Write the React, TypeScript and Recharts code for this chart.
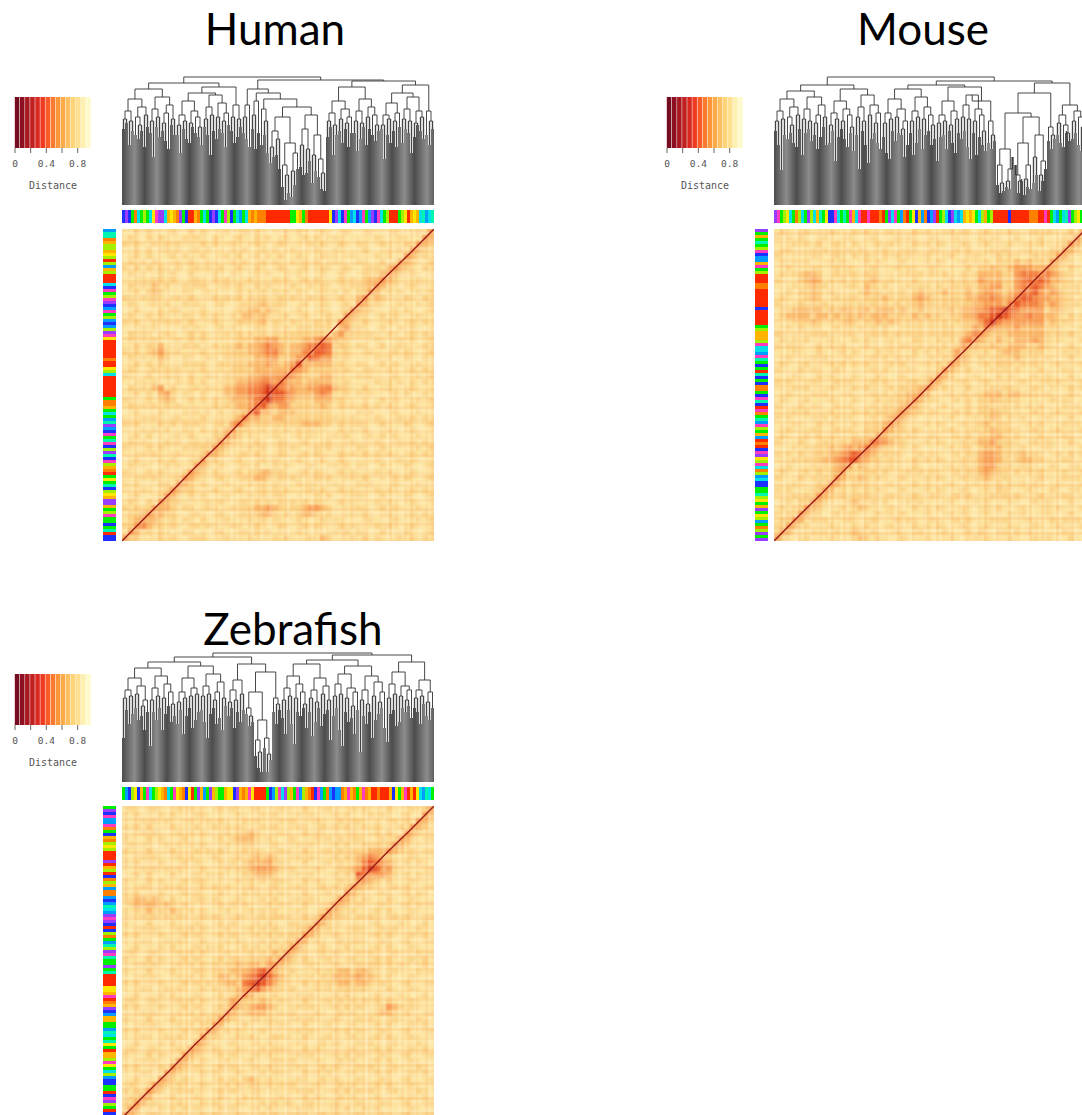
import { Bar, BarChart, Cell, Line, LineChart, Scatter, ScatterChart, XAxis, YAxis } from 'recharts';

// tree nodes are [merge height, left, right], a plain number is a leaf tip height
const H1 = [106, [94, [86, 76, 82], [84, 60, 74]], [98, [88, 70, [80, 66, 74]], [90, 58, 78]]];
const H2 = [108, [96, [84, 72, 48], [88, 78, 68]], [100, [92, [82, 74, 64], 56], [86, 80, 70]]];
const H3 = [104, [90, [80, 70, 52], [84, 76, 66]], [94, [82, 62, 78], [88, 72, [78, 68, 60]]]];
const H4 = [110, [98, [86, 78, 70], [90, 50, 74]], [102, [88, 66, 76], [92, [84, 72, 58], 80]]];
const H5 = [100, [88, 74, 62], [86, 68, 78]];
const H6 = [104, [92, [84, 68, 78], [80, 50, 70]], [96, [86, 74, 62], [88, [82, 76, 58], 72]]];
const H7 = [106, [94, [84, 72, 54], [82, 66, 78]], [98, [88, 60, 76], [90, 70, [80, 64, 74]]]];
const H8 = [102, [90, [80, 76, 46], [86, 70, 62]], [92, [84, 74, 58], 78]];
const H9 = [108, [96, [86, 62, 76], [84, 72, 52]], [94, [82, 68, 80], [88, 74, 66]]];
const H10 = [94, 70, [84, 60, 76]];
const humanDeep = [116, [100, [88, 72, 66], 58], [112, [104, [90, 76, 56], 72], [106, [96, 60, [84, 70, 52]], [98, [88, [74, [58, 42, 48], [66, 50, 36]], [62, [40, 18, [30, 5, 12]], [52, [34, 8, 20], 36]]], [90, [76, [60, 38, 30], [56, 32, 44]], [70, [50, 22, 34], [46, 28, [32, 16, 14]]]]]]]];
const humanTree = [128, [122, [116, H1, H2], [118, [112, H3, H4], H5]], [125, humanDeep, [124, [118, H6, H7], [120, [112, H8, H9], H10]]]];

const M1 = [106, [94, [84, 74, 60], [86, 35, 70]], [98, [88, 66, [80, 72, 62]], [90, 58, 76]]];
const M2 = [108, [96, [86, 50, 72], [84, 76, 64]], [100, [90, [82, 70, 56], 68], [88, 78, 60]]];
const M3 = [104, [92, [80, 62, 74], [86, 44, 68]], [96, [84, 76, 66], [90, 58, [78, 72, 54]]]];
const M4 = [110, [98, [88, 70, 36], [84, 74, 60]], [100, [90, 42, 66], [92, [82, 72, 62], 56]]];
const M5 = [106, [92, [82, 68, 52], [86, 46, 74]], [96, [88, 64, 72], [84, [76, 70, 48], 60]]];
const M6 = [108, [94, [84, 72, 50], [88, 62, 76]], [98, [86, 56, 70], [90, 74, [80, 60, 66]]]];
const M7 = [104, [90, [82, 44, 68], [84, 70, 56]], [94, [80, 74, 62], [86, 52, 72]]];
const M8 = [110, [100, [88, 66, 74], [86, 58, 46]], [96, [84, 72, 50], [90, 68, [74, 60, 54]]]];
const M9 = [84, 62, [70, 56, 64]];
const mouseDeep = [112, [92, [56, [40, 20, [22, 12, 14]], [36, [24, 18, 16], 48]], [88, [62, [30, 40, [24, 12, 26]], [40, [26, 10, 18], 16]], [70, [48, 22, 30], [44, [30, 14, 24], 36]]]], [78, 64, [70, 56, 66]]];
const mouseRight = [100, [90, [82, 70, 62], [80, 58, [72, 74, 64]]], [94, [84, 66, 72], [88, 60, [78, 54, 68]]]];
const mouseTree = [128, [120, [114, M1, M2], [116, M3, M4]], [124, [120, [116, M5, M6], [118, M7, [104, M8, M9]]], [122, mouseDeep, mouseRight]]];

const Z1 = [104, [92, [84, 44, 72], [86, 58, 68]], [96, [88, 74, 62], [82, [76, 66, 52], 70]]];
const Z2 = [106, [94, [82, 36, 70], [86, 62, 74]], [98, [84, 52, 68], [90, 76, [78, 60, 66]]]];
const Z3 = [104, [90, [80, 58, 72], [84, 48, 66]], [94, [86, 74, 54], [88, 62, 70]]];
const Z4 = [108, [96, [86, 72, 60], [88, 44, 68]], [100, [90, [82, 74, 58], 64], [84, 52, 76]]];
const Z5 = [102, [92, [80, 66, 74], [82, 54, 70]], [88, 60, 72]];
const zebrafishDeep = [110, [90, [74, 68, [66, 56, 60]], [62, [42, 26, [30, 14, 10]], [44, 34, [28, 10, 22]]]], [84, 70, [78, 58, 72]]];
const Z7 = [106, [94, [82, 64, 48], [86, 72, 58]], [98, [84, 38, 70], [90, 66, [78, 74, 54]]]];
const Z8 = [104, [92, [84, 70, 46], [80, 60, 74]], [96, [88, 56, 68], [82, 72, 42]]];
const Z9 = [108, [98, [86, 66, 74], [88, 52, 36]], [94, [84, 70, 60], [90, [76, 64, 48], 72]]];
const Z10 = [106, [92, [82, 30, 66], [78, 58, 70]], [100, [86, 44, 62], [90, [80, 68, 74], 54]]];
const Z11 = [110, [98, [84, 40, 68], [88, 72, 56]], [96, [86, 60, 74], [92, [82, 70, 76], 64]]];
const Z12 = [102, [92, [84, 74, 70], [86, 58, 78]], [90, [80, 66, 62], 74]];
const zebrafishTree = [129, [125, [120, [114, Z1, Z2], [116, Z3, Z4]], [118, Z5, zebrafishDeep]], [127, [122, [118, Z7, Z8], [116, Z9, Z10]], [120, Z11, Z12]]];

// strip colours, one letter per sample
const stripColours: Record<string, string> = {
  r: '#ff2a00', o: '#ff8000', a: '#ffb400', y: '#ffe600', l: '#a4f000', g: '#00f000',
  t: '#00f5b0', c: '#00e0e8', s: '#009cff', b: '#1c30ff', p: '#9a3cff', m: '#ff3cc0',
};
const humanTop = 'bpbgocglgcymppcayaopgbrraogcgbpbcgmlbgcsgcaoaooorrrrrrrrggyagorrrrrrrybpcbmgscbsmgspbmcglrrrglyrayactsct';
const humanLeft = 'sttoallaylrlsalrrrcbmglmpbsmglsbslpmyrrrrrrorrylcrrrrrrrgooagcgstpsbmgtmblptbmlaorgygtblyappaglmggbgtrbb';
const mouseTop = 'pmglycgolcgplcatgybbmcgtgmacmrrmrrrorgpcmgsorgybasobsprglcbpcscayaygclaglrrrrrbrrrrrrooorrmrgcsgctpglygy';
const mouseLeft = 'pgagtglmbssamglrrroorrrrrrbrrrrrglaaalmccsmtgbgrtbgboogbmtbrmogtsmlgasrorbmpylmcolscbbggtlygapgylsgolpgp';
const zebrafishTop = 'gsblybagmcglyaocgmyaobyrgpasgpalggayybpaoamyrrrrgbslmcplagmslaorbmsgosbssoamaogamoarrorrrabygamrarycstcg';
const zebrafishLeft = 'gpbmssmogbaolylrrrpralrbolasoosbstcspmpbrblogstlpmtggpgtrrrryyamroapbsaaggstcgtygraalmygclsbbggrbmplgrbr';

// colour bar of the distance key
const keyPositions = [0.03, 0.096, 0.161, 0.226, 0.291, 0.356, 0.421, 0.486, 0.551, 0.616, 0.681, 0.746, 0.811, 0.876, 0.941];
const keyColours = ['#760c20', '#8e1020', '#a81820', '#c02020', '#d82820', '#ee3a20', '#f85a28', '#fc7a30', '#fd9638', '#fdab48', '#fdc060', '#fed478', '#fee090', '#fef0b0', '#fffacc'];
const keyTicks = [0, 0.2, 0.4, 0.6, 0.8];

const heatColours = ['#feeeb4', '#fee8a8', '#fde29c', '#fcd58a', '#fbbc70', '#f9a05a', '#f47e42', '#ea5628', '#d22e18', '#9c1612'];
const diagonalX = [0, 4, 8, 12, 16, 20, 24, 28, 32, 36, 40, 44, 48, 52];
const diagonalY = [0, 4.06, 7.96, 12.08, 15.94, 20.08, 23.94, 28.06, 31.94, 36.08, 39.96, 44.08, 47.96, 52];

// pale and orange streaks running through the heatmaps, 0 palest, 2 none, 5 most orange
const streakColours = ['#fff8d8', '#fff4c8', '#ffffff', '#f6a050', '#f39040', '#ee7c30'];
const streakOpacity = [0.22, 0.1, 0, 0.06, 0.12, 0.2];
const humanCols = '21324201232042132320123421 23201423120324213024132012 32402123142032413201243120 21342012320413203241201324';
const humanRows = '30214203120423102431203412 02314210324023142013240312 14203124012342031204312403 20134203142031240321420313';
const mouseCols = '12403120423102341204231402 31204213402312043120432103 20413204120342013241204312 40231204132402314021340213';
const mouseRows = '24013204312041230412031423 10324120431204213042130241 32041203142031240413203124 02413204213420312042130412';
const zebrafishCols = '03124201342031204213240312 41203142031240321403120423 12043120341204231204312403 21403124203412031420312401';
const zebrafishRows = '31204123042130241320412031 24031240213402314203124032 40312042130241320413204123 02143120423012413204132042';

const humanHeat = [
  '2132321232132 3212312323212 1323212321232 1232123212325',
  '2321323212323 2132123213231 2312323123212 2123212321254',
  '3232132323212 3231232123212 3212132312321 3212321232543',
  '2132312323123 2312132312323 1232123213212 2321232325432',
  '1232321232312 3212323123132 3123212323123 2123231254332',
  '2323132123232 1321232312323 2132323123212 3212312543213',
  '3132323213123 2323123213212 3212312321232 1233245432132',
  '2323123232132 1232132123232 1323212312321 2333454323212',
  '2123233232123 2132321232123 2312323212323 2344543212321',
  '1323242312323 3212323213232 1232132321223 3345432123212',
  '2232343212321 2321213232323 2323212323132 3354232312323',
  '3213232123232 1232323132322 3232132312322 4534321232132',
  '2321232312323 2123212333433 3212312321232 5433212321323',
  '1232123233212 3212123344343 2123212321235 4332123232123',
  '2312323212321 3232132443432 2312321232154 3212323212321',
  '3232132323232 1232123333423 2132123232543 2321232123232',
  '2123231212323 2123232123323 2323333332453 3212321323212',
  '1323212321232 3212323232323 2333333324533 3232132123232',
  '2323232123232 3212223334455 3333445654332 2123212323123',
  '2132334212323 1232334344565 4344566763332 3212312321232',
  '3232345323212 3212333344566 4344667763232 1232123232123',
  '2323234312321 2321333334455 3345576553232 2123231232132',
  '1232323212323 3213333344454 3457444443322 3212323212321',
  '2321232323212 3212233334444 4465433333232 1232132123232',
  '3212322323132 2321333344555 5654333443222 3232123212323',
  '2123231213232 3212334455665 6544344443232 2123232313232',
  '1323245232123 2322445566787 6554455664332 2321232123212',
  '2232324532321 3212445566787 7654445653232 3232123231232',
  '3212323431232 3232344456786 6543334443322 1212323212323',
  '2323232323212 1232334456754 5533333432323 2323132123212',
  '1232123212323 2313233467443 4443333332212 3232123212321',
  '2123232123212 3212234644334 4333333333223 2123212323232',
  '3232123232323 2123256433333 3333444332323 3212321232123',
  '2123232312321 3232453332323 2323232212323 2321232123212',
  '1232312123232 1233543232123 2123232123232 1232323212321',
  '2323212323123 2335432123212 3212321232123 2123212323232',
  '3212323212323 3354321232312 3232123232212 3212321212323',
  '2123232123212 3543212323212 3212323212323 2323232123232',
  '1232123232123 5332123212323 2123212312321 2123212323212',
  '2323212323225 4323212323123 2321232123232 3212321232123',
  '3212323212354 3232123233443 3212323212323 2123232123212',
  '2123232123543 2123212334432 3232123232123 2321213232123',
  '3232123325432 3212321232323 2123232123212 3232123212321',
  '2123212354332 1232123212323 2321232312323 2123232123232',
  '1232123543232 3212321232323 3212123232123 3212321232123',
  '2321325433212 2323212323232 3232323212323 2123232123212',
  '3233354432321 2321232334454 3233455432123 3212323212321',
  '2334544332123 2123212333443 2323443232123 2321232123232',
  '2345443232321 3212321232323 2123212323212 1232123212323',
  '3356433232123 2321232123212 3212323212323 2123232123212',
  '2543323212321 2123212323232 2123212123232 3212321232123',
  '5332123232123 3212321232123 2321232432123 2323212323232',
];
const mouseHeat = [
  '2321232123212 3232123212323 2123232123212 3212323212325',
  '3232321232123 2123212323212 3212321232321 2321232123254',
  '2123232312321 3212323212323 2321232123212 3123232123543',
  '2332123232323 2321232123212 3212323212323 2123212335432',
  '3212123212321 3232132323123 2123212321232 3212323354212',
  '2323232123232 1232321232123 2321232323233 3434333543212',
  '1232123212323 2123212323212 3212123233433 4555445432321',
  '2323344312323 3233212123232 3232132344443 3566656543212',
  '3212345423232 3234323212321 2123232354443 3567676443212',
  '2123234332123 3243232123233 2323333344553 3566765433232',
  '1232334323212 2343323232343 3343334345543 4566754543232',
  '2321234312323 3233343233454 3233334455654 5677655443212',
  '3212323232123 2323232323343 3233333445554 6766654543232',
  '2334444434344 3443444343343 3334344556778 7655553443212',
  '2344443443434 3434443333434 3323344566787 6556554432323',
  '2123334323234 3233434323232 3232333457865 5555553433212',
  '2232323212323 2323232123232 3233233546544 4544443332123',
  '3212123232123 2123232323232 3233234654333 4444443232321',
  '2323232123212 3232123212332 2323256543343 3444543232123',
  '3233212323232 1232123233232 3232354433433 4443343212321',
  '2123212321232 3212323212323 2323543323234 4433332123232',
  '1232123232123 2123232323212 3233543232333 3432323212321',
  '2321232123232 3232123232123 2325432123233 3232321232123',
  '3212323212321 2123232123212 2354323212323 2321232123212',
  '2123212323212 3212321232123 3543212321232 3212323212321',
  '3232123212323 2123232123323 5421232123212 1232123232123',
  '2123232123212 3232123233345 4232123212323 3212321212323',
  '1232123232123 2123232334454 2123232334443 4433323212321',
  '2321232123212 3212323334543 3212323233433 3322212323212',
  '3212323212323 2123233345432 1232123233323 2323232123232',
  '2123232123212 3232333454332 3212323233433 2212321232123',
  '3232123232323 2123234543212 2123212323432 3232123212321',
  '2123212323212 3233345432123 2321232334333 2123232123232',
  '1232123212323 2133354332321 2123212323433 3212321232123',
  '2321232323212 3233543323212 3212323233443 2321232123212',
  '3212321233233 4446654332123 2321232344533 3212323212321',
  '2123233334345 4565433232321 2123233234443 3232123212123',
  '3232323334456 7654333321232 3212323345543 3343321232323',
  '2123233344567 7543323212323 2321232345543 2344332123212',
  '1232123233455 3432323212321 2123232345533 3233212321232',
  '2321232323453 2333232123232 3212323345433 2323232123123',
  '3212323233543 3432321232123 2321232334323 2121232123232',
  '2123212335432 3332123212323 2123212323232 3232321232123',
  '3232123354232 3232321232123 2321232123233 2123212321232',
  '2123233543232 3332123212321 3212323212323 2321232123212',
  '1232335432123 4323232123232 2123212323212 3212323212321',
  '2323354321232 3432123212323 2321232123232 1232123232123',
  '3233543212323 3212323232123 2123232123212 3232123212321',
  '2335423232123 2123212323212 3212323212323 2123212323232',
  '3354232123212 3232123212323 2321232123212 3212321232123',
  '3542123232323 4323212321232 1232123232123 2323212123212',
  '5321232123212 3432321232123 2123212323212 3212323212321',
];
const zebrafishHeat = [
  '2321232123232 2123232123212 3212321232123 2321232123235',
  '3232123232123 3212123212323 2123232123232 1232321232154',
  '2123232321232 2323212323212 3232123212323 3212123232543',
  '3232321232123 1232323212323 2123212323232 2323212325432',
  '2123232123232 3212323343212 3212323212123 2123232154323',
  '3212323212321 2123234443232 1232123232323 3212323543123',
  '2323212323232 3212323332123 2123232123232 2333335432212',
  '3212321232123 2323212323212 3212321232323 3344454323123',
  '2123232123232 1232123234343 2123232123233 4565432123212',
  '3232123212323 2123232344453 3212321232323 4676543232321',
  '2123232323212 3212323345554 3232123212334 5787553212123',
  '1232321232123 2323212334443 2123232123233 7655543232323',
  '3212323212323 3212123232323 3212323212323 5543232123212',
  '2123212323212 3232321232123 2123212323235 4332123232123',
  '3232123212323 2123212323232 3212321232154 3212321232321',
  '3344343232123 3232123212323 2123232123543 2321232123212',
  '2344443432321 2123232321232 3212321235432 3212321232323',
  '3233433343232 3212321232323 2123212354323 2123232123212',
  '2123232323212 3232123212323 3212323543321 3232123232123',
  '3212321232123 2123232123232 1233235432212 2123212321232',
  '2123232123232 3212321232323 2123354232123 3212323212321',
  '3232123212323 2123232123232 3233543123212 2123232123232',
  '2123212323212 3212323212323 2335423212323 3212321232123',
  '1232123232123 2323212323232 3354212321232 2123232123212',
  '2321232123232 3212321232324 3543212323212 3232123212323',
  '3212323212323 2123233233343 5432321232123 2123232123232',
  '2123232123232 3232334344355 4321232123212 3233232321232',
  '3212321232123 3233344456764 3232123233443 4432123212323',
  '2123232123232 3234434567875 4323232334444 5443232123212',
  '3232123212323 2323443678764 3212323233443 4432321232123',
  '2123212323212 3232334567543 3232123232333 3321232123212',
  '1232123232123 2123234543323 2123232123232 2123212321232',
  '2321232123232 3212354333432 3212321232323 2323232123212',
  '3232123212323 2123354345543 2123232123232 3212354323212',
  '2123232123232 3233543344432 3232123212323 2123443232123',
  '3212321232123 2335432123232 2123232123212 3232123212321',
  '2123232123232 3354212321232 3212321232123 2123232123232',
  '3232123212323 3542323212321 2123232123232 3212321232123',
  '2123212323212 5332123232123 3212321232123 2123232123212',
  '1232123232125 4321232123232 2123212323212 3232123212321',
  '2321232123254 3232123212323 3212323212123 2123232123232',
  '3212323212543 2123232123232 2123232123232 3212321232123',
  '2123232125432 3212321232123 3232123212323 2123232123212',
  '3232123254323 2123232123232 2123212323212 3232123212321',
  '2123212543212 3232123212323 3212323232123 2123232123232',
  '1232125432321 2123232343232 2123212323212 3212321232123',
  '2321254323212 3212323233232 3232123212323 2123232123212',
  '3233543123232 2123232123212 2123232123232 3232123212321',
  '2335421232123 2123212323212 3212323212323 2123212323232',
  '3354232123212 3232123212323 2321232123212 3212321232123',
  '3542123232323 2123232123232 2123232123232 2323212123212',
  '5421232123212 3232123212323 2123212323212 3212321232123',
];

function layoutTree(tree: any) {
  const leaves: { name: number; tip: number; cap: number }[] = [];
  const links: { x: number; h: number | null }[] = [];
  const walk = (node: any): { x: number; h: number } => {
    if (typeof node === 'number') {
      leaves.push({ name: leaves.length, tip: node, cap: 0 });
      return { x: leaves.length - 0.5, h: node };
    }
    const [h, left, right] = node;
    const a = walk(left);
    const b = walk(right);
    if (typeof left === 'number' && typeof right === 'number') {
      // tight pairs look filled with light grey in the original
      leaves[leaves.length - 2].cap = h - left;
      leaves[leaves.length - 1].cap = h - right;
    }
    links.push({ x: a.x, h: a.h }, { x: a.x, h }, { x: b.x, h }, { x: b.x, h: b.h }, { x: b.x, h: null });
    return { x: (a.x + b.x) / 2, h };
  };
  walk(tree);
  return { leaves, links };
}

const noMargin = { top: 0, right: 0, bottom: 0, left: 0 };

function Dendrogram({ id, tree }: { id: string; tree: any }) {
  const { leaves, links } = layoutTree(tree);
  return (
    <div style={{ position: 'absolute', left: 122, top: 75, width: 312, height: 130 }}>
      <div style={{ position: 'absolute', left: 0, top: 0 }}>
        <BarChart width={312} height={130} data={leaves} margin={noMargin} barCategoryGap={0}>
          <defs>
            <linearGradient id={id} gradientUnits="userSpaceOnUse" x1={0} y1={0} x2={22.5} y2={0} spreadMethod="repeat">
              <stop offset="0" stopColor="#4c4c4c" />
              <stop offset="0.55" stopColor="#8c8c8c" />
              <stop offset="1" stopColor="#4c4c4c" />
            </linearGradient>
          </defs>
          <XAxis dataKey="name" hide />
          <YAxis hide domain={[0, 130]} />
          <Bar dataKey="tip" stackId="a" fill={`url(#${id})`} isAnimationActive={false} />
          <Bar dataKey="cap" stackId="a" fill="#dcdcdc" isAnimationActive={false} />
        </BarChart>
      </div>
      <div style={{ position: 'absolute', left: 0, top: 0 }}>
        <LineChart width={312} height={130} data={links} margin={noMargin}>
          <XAxis dataKey="x" type="number" domain={[0, leaves.length]} hide />
          <YAxis hide domain={[0, 130]} />
          <Line dataKey="h" stroke="#333" strokeWidth={0.9} dot={false} connectNulls={false} isAnimationActive={false} />
        </LineChart>
      </div>
    </div>
  );
}

function Strip({ codes, vertical, style }: { codes: string; vertical?: boolean; style: any }) {
  const data = codes.split('').map((code, i) => ({ name: i, code, size: 1 }));
  const width = vertical ? 13 : 312;
  const height = vertical ? 312 : 13;
  return (
    <div style={{ position: 'absolute', ...style }}>
      <BarChart width={width} height={height} data={data} margin={noMargin} barCategoryGap={0} layout={vertical ? 'vertical' : 'horizontal'}>
        {vertical ? <XAxis type="number" hide domain={[0, 1]} /> : <XAxis dataKey="name" hide />}
        {vertical ? <YAxis type="category" dataKey="name" hide /> : <YAxis hide domain={[0, 1]} />}
        <Bar dataKey="size" isAnimationActive={false}>
          {data.map((d) => (
            <Cell key={d.name} fill={stripColours[d.code]} />
          ))}
        </Bar>
      </BarChart>
    </div>
  );
}

function Streaks({ codes, vertical }: { codes: string; vertical?: boolean }) {
  const data = codes.replace(/ /g, '').split('').map((digit, i) => ({ name: i, level: Number(digit), size: 1 }));
  return (
    <div style={{ position: 'absolute', left: 0, top: 0 }}>
      <BarChart width={312} height={312} data={data} margin={noMargin} barCategoryGap={0} layout={vertical ? 'horizontal' : 'vertical'}>
        {vertical ? <XAxis dataKey="name" hide /> : <XAxis type="number" hide domain={[0, 1]} />}
        {vertical ? <YAxis hide domain={[0, 1]} /> : <YAxis type="category" dataKey="name" hide />}
        <Bar dataKey="size" isAnimationActive={false}>
          {data.map((d) => (
            <Cell key={d.name} fill={streakColours[d.level]} fillOpacity={streakOpacity[d.level]} />
          ))}
        </Bar>
      </BarChart>
    </div>
  );
}

function Heatmap({ rows, cols, streakRows }: { rows: string[]; cols: string; streakRows: string }) {
  const cells: { x: number; y: number; level: number }[] = [];
  rows.forEach((row, r) => {
    row.replace(/ /g, '').split('').forEach((digit, c) => {
      cells.push({ x: c + 0.5, y: 51.5 - r, level: Number(digit) });
    });
  });
  const drawCell = (props: any) => (
    <rect x={props.cx - 3.05} y={props.cy - 3.05} width={6.1} height={6.1} fill={heatColours[props.payload.level]} />
  );
  return (
    <div style={{ position: 'absolute', left: 122, top: 229, width: 312, height: 312, overflow: 'hidden', background: '#fcdc98' }}>
      <div style={{ position: 'absolute', left: 0, top: 0, filter: 'blur(0.8px)' }}>
        <ScatterChart width={312} height={312} margin={noMargin}>
          <XAxis dataKey="x" type="number" domain={[0, 52]} hide />
          <YAxis dataKey="y" type="number" domain={[0, 52]} hide />
          <Scatter data={cells} shape={drawCell} isAnimationActive={false} />
        </ScatterChart>
      </div>
      <Streaks codes={cols} vertical />
      <Streaks codes={streakRows} />
      <div style={{ position: 'absolute', left: 0, top: 0 }}>
        <LineChart width={312} height={312} data={diagonalX.map((x, i) => ({ x, y: diagonalY[i] }))} margin={noMargin}>
          <XAxis dataKey="x" type="number" domain={[0, 52]} hide />
          <YAxis dataKey="y" type="number" domain={[0, 52]} hide />
          <Line dataKey="y" stroke="#9a1a14" strokeWidth={1.4} dot={false} isAnimationActive={false} />
        </LineChart>
      </div>
    </div>
  );
}

function DistanceKey() {
  const data = keyPositions.map((x, i) => ({ x, size: 1, fill: keyColours[i] }));
  return (
    <div style={{ position: 'absolute', left: 0, top: 97 }}>
      <BarChart width={106} height={96} data={data} margin={{ top: 0, right: 15, bottom: 0, left: 15 }}>
        <XAxis
          dataKey="x"
          type="number"
          domain={[0, 0.97]}
          ticks={keyTicks}
          interval={0}
          height={45}
          axisLine={false}
          tickSize={5}
          tickMargin={7}
          tick={{ fill: '#555', fontSize: 9.5, fontFamily: '"DejaVu Sans Mono", monospace' }}
          tickFormatter={(v: number) => (v === 0 ? '0' : v === 0.4 || v === 0.8 ? String(v) : '')}
          label={{ value: 'Distance', position: 'insideBottom', offset: 4, fill: '#555', fontSize: 10, fontFamily: '"DejaVu Sans Mono", monospace' }}
        />
        <YAxis hide domain={[0, 1]} />
        <Bar dataKey="size" barSize={6} isAnimationActive={false}>
          {data.map((d) => (
            <Cell key={d.x} fill={d.fill} />
          ))}
        </Bar>
      </BarChart>
    </div>
  );
}

function Panel({ id, title, titleX, titleY, left, top, tree, topCodes, leftCodes, rows, cols, streakRows }: any) {
  return (
    <div style={{ position: 'absolute', left, top, width: 440, height: 545 }}>
      <div style={{ position: 'absolute', left: titleX - 150, width: 300, top: titleY - 28, height: 56, lineHeight: '56px', textAlign: 'center', fontFamily: 'Lato, sans-serif', fontSize: 44, color: '#000' }}>
        {title}
      </div>
      <DistanceKey />
      <Dendrogram id={id} tree={tree} />
      <Strip codes={topCodes} style={{ left: 122, top: 210 }} />
      <Strip codes={leftCodes} vertical style={{ left: 103, top: 229 }} />
      <Heatmap rows={rows} cols={cols} streakRows={streakRows} />
    </div>
  );
}

export default function App() {
  return (
    <div style={{ position: 'absolute', left: 0, top: 0, width: 1082, height: 1115, overflow: 'hidden', background: '#fff' }}>
      <Panel id="bandsHuman" title="Human" titleX={275} titleY={28} left={0} top={0} tree={humanTree} topCodes={humanTop} leftCodes={humanLeft} rows={humanHeat} cols={humanCols} streakRows={humanRows} />
      <Panel id="bandsMouse" title="Mouse" titleX={271} titleY={28} left={652} top={0} tree={mouseTree} topCodes={mouseTop} leftCodes={mouseLeft} rows={mouseHeat} cols={mouseCols} streakRows={mouseRows} />
      <Panel id="bandsZebrafish" title="Zebrafish" titleX={293} titleY={51} left={0} top={577} tree={zebrafishTree} topCodes={zebrafishTop} leftCodes={zebrafishLeft} rows={zebrafishHeat} cols={zebrafishCols} streakRows={zebrafishRows} />
    </div>
  );
}
